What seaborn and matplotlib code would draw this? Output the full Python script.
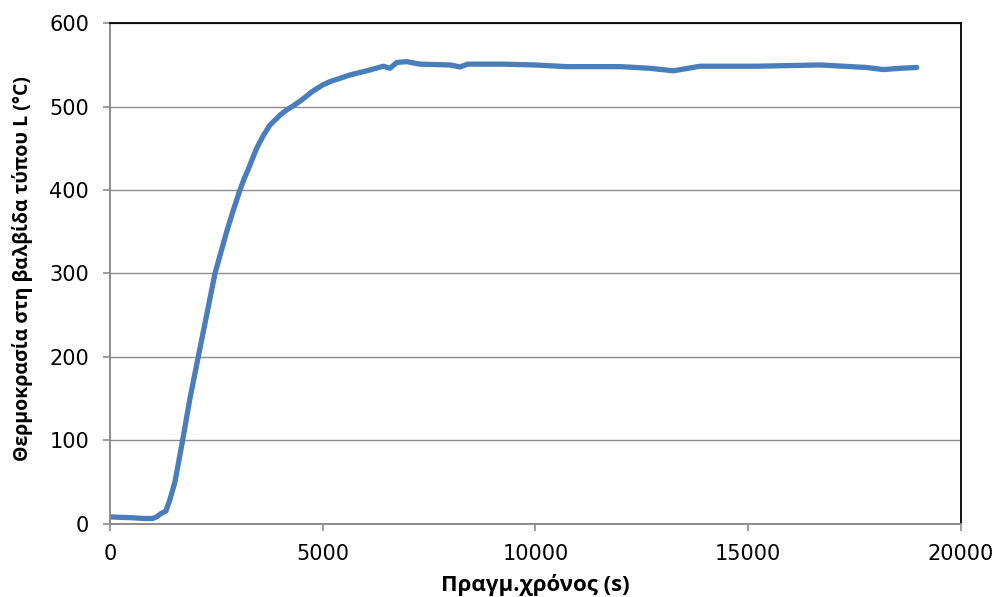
import matplotlib
matplotlib.use("Agg")
import matplotlib.pyplot as plt
import seaborn as sns
import pandas as pd

# Valve temperature log (type L valve)
time_s = [0, 200, 500, 800, 1000, 1100, 1200, 1316, 1410, 1528, 1708, 1880,
          2075, 2272, 2468, 2742, 2900, 3055, 3150, 3250, 3447, 3600, 3760,
          4000, 4150, 4310, 4505, 4750, 5000, 5170, 5640, 6110, 6425, 6580,
          6740, 6970, 7285, 8000, 8225, 8400, 9200, 10000, 10730, 12000,
          12690, 13240, 13870, 15200, 16690, 17780, 18170, 18570, 18960]
temp_c = [8, 7.5, 7, 6, 6, 8, 12, 15, 29, 50, 100, 150,
          200, 250, 300, 350, 376, 400, 413, 425, 450, 465, 478,
          490, 496, 501, 508, 518, 526, 530, 538, 544, 548.5, 546,
          553, 554, 551, 550, 547.6, 551, 551, 550, 548, 548,
          546, 543, 548.5, 548.5, 550, 547, 544.5, 546, 547]

x_ticks = [0, 5000, 10000, 15000, 20000]
y_ticks = [0, 100, 200, 300, 400, 500, 600]
x_label = "Πραγμ.χρόνος (s)"
y_label = "Θερμοκρασία στη βαλβίδα τύπου L (°C)"

df = pd.DataFrame({"t": time_s, "T": temp_c})

sns.set_theme(style="white")
plt.rcParams["font.family"] = ["DejaVu Sans"]

fig = plt.figure(figsize=(9.97, 5.97), dpi=100)
ax = fig.add_axes([0.1103, 0.1231, 0.8536, 0.8379])

sns.lineplot(data=df, x="t", y="T", ax=ax, color="#4a7ebb", linewidth=3.8,
             solid_capstyle="round", solid_joinstyle="round")

ax.set_xlim(0, 20000)
ax.set_ylim(0, 600)
ax.set_xticks(x_ticks)
ax.set_yticks(y_ticks)
ax.set_xticklabels([str(v) for v in x_ticks])
ax.set_yticklabels([str(v) for v in y_ticks])

grid_col = "#8c8c8c"
ax.yaxis.grid(True, color=grid_col, linewidth=1.0)
ax.xaxis.grid(False)
ax.set_axisbelow(True)

for side in ("left", "bottom"):
    ax.spines[side].set_color(grid_col)
    ax.spines[side].set_linewidth(1.4)
for side in ("top", "right"):
    ax.spines[side].set_color("#000000")
    ax.spines[side].set_linewidth(1.3)

ax.tick_params(axis="both", direction="out", length=5, width=1.2,
               color=grid_col, labelsize=15, labelcolor="#000000")
ax.tick_params(axis="y", pad=10)
ax.tick_params(axis="x", pad=10)
ax.tick_params(left=True, bottom=True)

ax.set_xlabel(x_label, fontsize=16, fontweight="bold", family="Open Sans",
              color="#000000")
ax.set_ylabel(y_label, fontsize=14, fontweight="bold", family="Open Sans",
              color="#000000")
ax.xaxis.set_label_coords(0.5, -0.100)
ax.yaxis.set_label_coords(-0.091, 0.51)

fig.savefig("out.png", dpi=100)
